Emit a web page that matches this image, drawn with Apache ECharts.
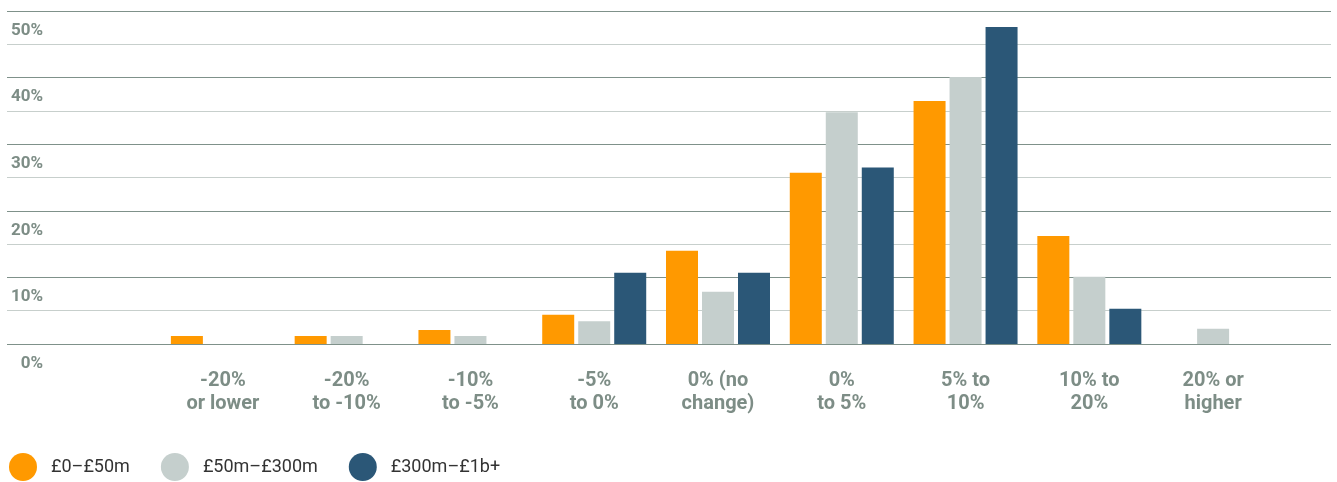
<!DOCTYPE html>
<html>
<head>
<meta charset="utf-8">
<script src="https://cdn.jsdelivr.net/npm/echarts@6/dist/echarts.min.js"></script>
<style>
  html, body { margin: 0; padding: 0; background: #fff; }
  #chart { width: 1337px; height: 482px; }
</style>
</head>
<body>
<div id="chart"></div>
<script>
// categories and values (percent of respondents)
const categories = [
    '-20%\nor lower', '-20%\nto -10%', '-10%\nto -5%', '-5%\nto 0%',
    '0% (no\nchange)', '0%\nto 5%', '5% to\n10%', '10% to\n20%', '20% or\nhigher'
];
const seriesNames = ['£0–£50m', '£50m–£300m', '£300m–£1b+'];
const small = [1.2, 1.2, 2.1, 4.4, 14.0, 25.7, 36.5, 16.2, null];
const mid = [null, 1.2, 1.2, 3.4, 7.85, 34.8, 40.1, 10.1, 2.3];
const large = [null, null, null, 10.7, 10.7, 26.5, 47.6, 5.3, null];
const yMin = 0, yMax = 50, yStep = 5;

const colors = ['#ff9900', '#c5cfcd', '#2b5777'];
const labelColor = '#7d8d86';

const chart = echarts.init(document.getElementById('chart'));

const mkSeries = (name, data, i) => ({
    name: name,
    type: 'bar',
    xAxisIndex: 1,
    yAxisIndex: 1,
    data: data,
    barWidth: 32,
    barGap: '12.5%',
    itemStyle: { color: colors[i] },
    emphasis: { disabled: true }
});

chart.setOption({
    animation: false,
    // grid 0 only carries the full width gridlines and y labels
    grid: [
        { left: 7, right: 6, top: 11, bottom: 138 },
        { left: 161, right: 62, top: 11, bottom: 138 }
    ],
    legend: {
        left: 4,
        top: 448,
        icon: 'circle',
        itemWidth: 28,
        itemHeight: 28,
        itemGap: 31,
        data: seriesNames,
        textStyle: {
            fontFamily: 'Roboto, sans-serif',
            fontSize: 18,
            color: '#333',
            padding: [2, 0, 0, 9]
        }
    },
    xAxis: [
        { gridIndex: 0, type: 'value', show: false, min: 0, max: 1 },
        {
            gridIndex: 1,
            type: 'category',
            data: categories,
            axisLine: { show: false },
            axisTick: { show: false },
            axisLabel: {
                interval: 0,
                margin: 25,
                fontFamily: 'Roboto, sans-serif',
                fontWeight: 'bold',
                fontSize: 20,
                lineHeight: 23,
                color: labelColor
            }
        }
    ],
    yAxis: [
        {
            gridIndex: 0,
            type: 'value',
            min: yMin,
            max: yMax,
            interval: yStep,
            axisLine: { show: false },
            axisTick: { show: false },
            splitLine: {
                lineStyle: { color: ['#7f918a', '#c7cfcc'], width: 1 }
            },
            axisLabel: {
                inside: true,
                margin: 36,
                align: 'right',
                verticalAlign: 'top',
                padding: [11, 0, 0, 0],
                lineHeight: 17,
                fontFamily: 'Roboto, sans-serif',
                fontWeight: 'bold',
                fontSize: 17,
                color: labelColor,
                formatter: v => (v % 10 === 0 ? v + '%' : '')
            }
        },
        { gridIndex: 1, type: 'value', min: yMin, max: yMax, show: false }
    ],
    series: [
        mkSeries(seriesNames[0], small, 0),
        mkSeries(seriesNames[1], mid, 1),
        mkSeries(seriesNames[2], large, 2)
    ]
});
</script>
</body>
</html>
